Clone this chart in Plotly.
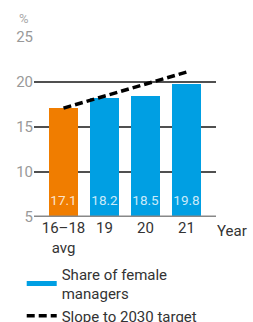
import plotly.graph_objects as go

categories = ["16–18<br>avg", "19", "20", "21"]
share_values = [17.1, 18.2, 18.5, 19.8]
bar_colors = ["#F07D00", "#009FE3", "#009FE3", "#009FE3"]
slope_x = ["16–18<br>avg", "21"]
slope_values = [17.1, 21.1]
y_ticks = [5, 10, 15, 20, 25]
axis_base = 5

FONT = "Roboto"

fig = go.Figure()
fig.add_trace(go.Bar(
    x=categories, y=share_values, marker=dict(color=bar_colors, line=dict(width=0)),
    width=0.707, showlegend=False, hoverinfo="skip",
))
fig.add_trace(go.Scatter(
    x=categories, y=[axis_base] * len(categories), mode="markers+text",
    marker=dict(size=12, opacity=0),
    text=[f"{v:.1f}" for v in share_values], textposition="top center",
    textfont=dict(family=FONT, size=13.5, color="rgba(255,255,255,0.8)"),
    showlegend=False, hoverinfo="skip", cliponaxis=False,
))
fig.add_trace(go.Scatter(
    x=[None], y=[None], mode="lines", name="Share of female<br>managers",
    line=dict(color="#009FE3", width=5), legendgroup="a",
))
fig.add_trace(go.Scatter(
    x=slope_x, y=slope_values, mode="lines", name="Slope to 2030 target",
    line=dict(color="black", width=3.5, dash="8px,4px"), hoverinfo="skip",
    legendgroup="b",
))

fig.update_layout(
    width=253, height=322,
    margin=dict(l=34, r=37, t=37, b=105, autoexpand=False),
    plot_bgcolor="white", paper_bgcolor="white",
    font=dict(family=FONT, size=14, color="#333"),
    bargap=0,
    xaxis=dict(range=[-0.72, 3.72], showgrid=False, showline=False, zeroline=False,
               tickfont=dict(size=15, color="#333"), ticks="", fixedrange=True),
    yaxis=dict(range=[5, 25], tickvals=y_ticks, showgrid=True, gridcolor="#505050", gridwidth=1.5,
               zeroline=False, showline=False, ticks="",
               tickfont=dict(size=15, color="#999"), fixedrange=True),
    legend=dict(x=-0.0675, y=-0.225, xanchor="left", yanchor="top",
                font=dict(size=15, color="#333"), itemwidth=30,
                tracegroupgap=0, bgcolor="rgba(0,0,0,0)"),
    shapes=[dict(type="line", xref="paper", yref="y", x0=0, x1=1, y0=5, y1=5,
                 line=dict(color="#888", width=3), layer="above")],
    annotations=[
        dict(text="%", xref="paper", yref="paper", x=-0.055, y=1.1, showarrow=False,
             font=dict(size=13, color="#aaa"), xanchor="center", yanchor="middle"),
        dict(text="Year", xref="paper", yref="paper", x=1.09, y=-0.078, showarrow=False,
             font=dict(size=15, color="#333"), xanchor="center", yanchor="middle"),
    ],
)
fig.write_html("out.html", config={"displayModeBar": False},
               post_script="document.body.style.margin='0';")
